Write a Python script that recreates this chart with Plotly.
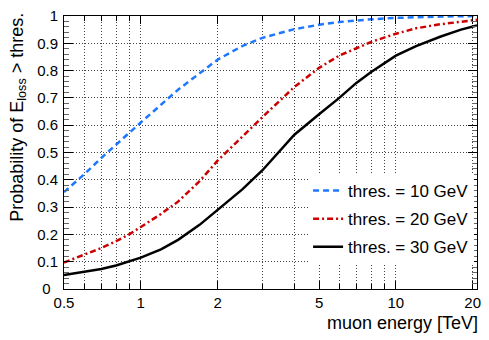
import numpy as np
import plotly.graph_objects as go

# muon energy [TeV]
energy = [0.5, 0.6, 0.7, 0.8, 0.9, 1.0, 1.2, 1.4, 1.7, 2.0, 2.5, 3.0, 4.0,
          5.0, 6.0, 7.0, 8.0, 10.0, 12.0, 15.0, 18.0, 20.8]

prob_10 = [0.355, 0.42, 0.48, 0.53, 0.572, 0.61, 0.675, 0.73, 0.79, 0.84,
           0.89, 0.92, 0.952, 0.968, 0.978, 0.984, 0.988, 0.993, 0.996,
           0.998, 0.999, 1.0]
prob_20 = [0.097, 0.125, 0.15, 0.175, 0.2, 0.227, 0.275, 0.32, 0.395, 0.47,
           0.56, 0.63, 0.74, 0.81, 0.855, 0.882, 0.905, 0.935, 0.955,
           0.97, 0.98, 0.986]
prob_30 = [0.051, 0.062, 0.073, 0.086, 0.1, 0.115, 0.145, 0.18, 0.235, 0.29,
           0.365, 0.435, 0.565, 0.64, 0.70, 0.755, 0.795, 0.855, 0.89,
           0.925, 0.95, 0.965]

x_ticks = [0.5, 1, 2, 5, 10, 20]
x_minor = [0.6, 0.7, 0.8, 0.9, 3, 4, 6, 7, 8, 9]
y_ticks = [0, 0.1, 0.2, 0.3, 0.4, 0.5, 0.6, 0.7, 0.8, 0.9, 1]
# the "0" label sits a little further left, clear of the "0.5"
y_labels = ["0\u2002", "0.1", "0.2", "0.3", "0.4", "0.5", "0.6", "0.7",
            "0.8", "0.9", "1"]

FONT = "Liberation Sans, Arial, sans-serif"

fig = go.Figure()
series = [
    ("thres. = 10 GeV", prob_10, "rgb(30,120,255)", "6px,4px"),
    ("thres. = 20 GeV", prob_20, "rgb(204,0,0)", "6px,3px,2px,3px"),
    ("thres. = 30 GeV", prob_30, "black", "solid"),
]
for name, y, col, dash in series:
    fig.add_trace(go.Scatter(
        x=energy, y=y, mode="lines", name=name, legendgroup=name,
        line=dict(color=col, width=2.5, dash=dash),
    ))

# the page body has an 8px margin, so margins are shifted to land the
# plot frame where the reference has it
grid_col = "#444"
fig.update_layout(
    width=489, height=340,
    margin=dict(l=56, r=20, t=8, b=59),
    paper_bgcolor="white", plot_bgcolor="white",
    font=dict(family=FONT, size=15, color="black"),
    showlegend=True,
    legend=dict(
        x=0.591, y=0.425, xanchor="left", yanchor="top",
        bgcolor="white", borderwidth=0,
        font=dict(size=17), tracegroupgap=3,
    ),
    xaxis=dict(
        type="log", range=[np.log10(0.5), np.log10(20.8)],
        tickmode="array", tickvals=x_ticks,
        ticktext=[str(v) for v in x_ticks],
        ticks="inside", ticklen=8, tickcolor="black",
        showgrid=True, gridcolor=grid_col, griddash="1px,2px", gridwidth=1,
        minor=dict(tickvals=x_minor, ticks="inside", ticklen=5,
                   tickcolor="black", showgrid=True, gridcolor=grid_col,
                   griddash="1px,2px", gridwidth=1),
        showline=True, linecolor="black", linewidth=1, mirror="ticks",
        zeroline=False, tickfont=dict(size=15),
        automargin=False, ticklabeloverflow="allow",
    ),
    yaxis=dict(
        range=[0, 1], tickmode="array", tickvals=y_ticks, ticktext=y_labels,
        ticks="inside", ticklen=9, tickcolor="black",
        showgrid=True, gridcolor=grid_col, griddash="1px,2px", gridwidth=1,
        minor=dict(dtick=0.02, tick0=0, ticks="inside", ticklen=5,
                   tickcolor="#666"),
        showline=True, linecolor="black", linewidth=1, mirror="ticks",
        zeroline=False, tickfont=dict(size=15), ticklabelstandoff=2,
        automargin=False, ticklabeloverflow="allow",
    ),
)

fig.add_annotation(
    text="muon energy [TeV]", xref="paper", yref="paper",
    x=1.008, y=-0.08, xanchor="right", yanchor="top", showarrow=False,
    font=dict(size=18),
)
fig.add_annotation(
    text="Probability of E<sub>loss</sub> > thres.", xref="paper", yref="paper",
    x=-0.111, y=1.018, xanchor="center", yanchor="top", showarrow=False,
    textangle=-90, font=dict(size=18),
)

fig.write_html("out.html")
